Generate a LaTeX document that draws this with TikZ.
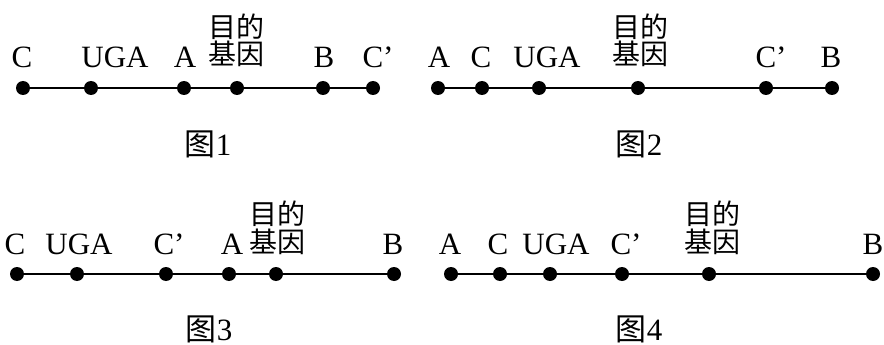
\documentclass[tikz,border=0pt]{standalone}
\usepackage{fontspec}
\setmainfont{Liberation Serif}
\newfontfamily\cjk{Noto Sans CJK SC}
\usetikzlibrary{positioning}

\tikzset{
  dot/.style={circle, fill=black, inner sep=0pt, minimum size=14pt},
  lab/.style={anchor=base, inner sep=0pt, font=\fontsize{31}{31}\selectfont},
  cjklab/.style={anchor=base, inner sep=0pt, font=\fontsize{28}{30}\selectfont\cjk},
  chain/.style={line width=2.8pt}
}

\begin{document}
\begin{tikzpicture}[x=1pt, y=-1pt]
  \useasboundingbox (0,0) rectangle (884,345);
  % fig 1
  \node[dot] (c1) at (23,88){};
  \node[dot] (u1) at (91,88){};
  \node[dot] (a1) at (184,88){};
  \node[dot] (g1) at (237,88){};
  \node[dot] (b1) at (323,88){};
  \node[dot] (d1) at (373,88){};
  \draw[chain] (c1) -- (u1);
  \draw[chain] (u1) -- (a1);
  \draw[chain] (a1) -- (g1);
  \draw[chain] (g1) -- (b1);
  \draw[chain] (b1) -- (d1);
  \node[lab] (lc1) at (22,67){C};
  \node[lab] (lu1) at (115,67){UGA};
  \node[lab] (la1) at (185,67){A};
  \node[cjklab] (lg1) at (236,65){基因};
  \node[cjklab, above=2pt of lg1] (lm1) {目的};
  \node[lab] (lb1) at (324,67){B};
  \node[lab] (ld1) at (378,67){C’};
  \node[lab] (f1) at (208,155){{\cjk 图}1};
  % fig 2
  \node[dot] (a2) at (438,88){};
  \node[dot] (c2) at (482,88){};
  \node[dot] (u2) at (539,88){};
  \node[dot] (g2) at (638,88){};
  \node[dot] (d2) at (766,88){};
  \node[dot] (b2) at (832,88){};
  \draw[chain] (a2) -- (c2);
  \draw[chain] (c2) -- (u2);
  \draw[chain] (u2) -- (g2);
  \draw[chain] (g2) -- (d2);
  \draw[chain] (d2) -- (b2);
  \node[lab] (la2) at (439,67){A};
  \node[lab] (lc2) at (481,67){C};
  \node[lab] (lu2) at (547,67){UGA};
  \node[cjklab] (lg2) at (640,65){基因};
  \node[cjklab, above=2pt of lg2] (lm2) {目的};
  \node[lab] (ld2) at (771,67){C’};
  \node[lab] (lb2) at (831,67){B};
  \node[lab] (f2) at (639,155){{\cjk 图}2};
  % fig 3
  \node[dot] (c3) at (17,274){};
  \node[dot] (u3) at (77,274){};
  \node[dot] (d3) at (166,274){};
  \node[dot] (a3) at (229,274){};
  \node[dot] (g3) at (276,274){};
  \node[dot] (b3) at (394,274){};
  \draw[chain] (c3) -- (u3);
  \draw[chain] (u3) -- (d3);
  \draw[chain] (d3) -- (a3);
  \draw[chain] (a3) -- (g3);
  \draw[chain] (g3) -- (b3);
  \node[lab] (lc3) at (15,254){C};
  \node[lab] (lu3) at (79,254){UGA};
  \node[lab] (ld3) at (169,254){C’};
  \node[lab] (la3) at (232,254){A};
  \node[cjklab] (lg3) at (277,252){基因};
  \node[cjklab, above=2pt of lg3] (lm3) {目的};
  \node[lab] (lb3) at (393,254){B};
  \node[lab] (f3) at (209,340){{\cjk 图}3};
  % fig 4
  \node[dot] (a4) at (451,274){};
  \node[dot] (c4) at (500,274){};
  \node[dot] (u4) at (550,274){};
  \node[dot] (d4) at (622,274){};
  \node[dot] (g4) at (709,274){};
  \node[dot] (b4) at (873,274){};
  \draw[chain] (a4) -- (c4);
  \draw[chain] (c4) -- (u4);
  \draw[chain] (u4) -- (d4);
  \draw[chain] (d4) -- (g4);
  \draw[chain] (g4) -- (b4);
  \node[lab] (la4) at (450,254){A};
  \node[lab] (lc4) at (498,254){C};
  \node[lab] (lu4) at (556,254){UGA};
  \node[lab] (ld4) at (626,254){C’};
  \node[cjklab] (lg4) at (712,252){基因};
  \node[cjklab, above=2pt of lg4] (lm4) {目的};
  \node[lab] (lb4) at (873,254){B};
  \node[lab] (f4) at (639,340){{\cjk 图}4};
\end{tikzpicture}
\end{document}
